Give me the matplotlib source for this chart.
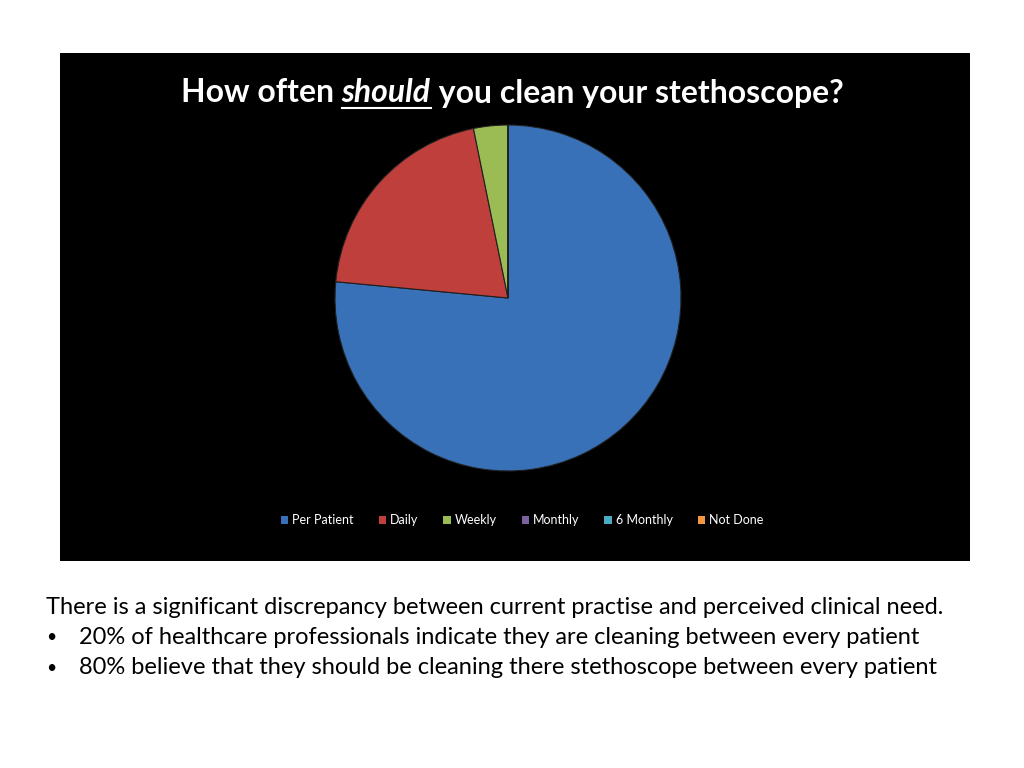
import matplotlib
matplotlib.use("Agg")
import matplotlib.pyplot as plt
from matplotlib.patches import Patch, Rectangle
from matplotlib.lines import Line2D

categories = ["Per Patient", "Daily", "Weekly", "Monthly", "6 Monthly", "Not Done"]
values = [76.5, 20.3, 3.2, 0, 0, 0]
colors = ["#3971B8", "#BE3F3B", "#9BBB54", "#7D60A0", "#4AACC5", "#F59443"]

title_parts = ["How often ", "should", " you clean your stethoscope?"]
body_lines = [
    "There is a significant discrepancy between current practise and perceived clinical need.",
    "20% of healthcare professionals indicate they are cleaning between every patient",
    "80% believe that they should be cleaning there stethoscope between every patient",
]

W, H = 1024, 768
fig = plt.figure(figsize=(W / 100, H / 100), dpi=100)
fig.patch.set_facecolor("white")
FONT = ["Lato", "DejaVu Sans"]

# black chart panel
fig.patches.append(Rectangle((60 / W, 1 - 561 / H), 910 / W, 508 / H,
                             transform=fig.transFigure, facecolor="black",
                             edgecolor="none", zorder=-5))

# pie
r = 173
cx, cy = 508, 298
ax = fig.add_axes([(cx - r) / W, (H - cy - r) / H, 2 * r / W, 2 * r / H])
ax.set_zorder(2)
ax.pie(values, colors=colors, startangle=90, counterclock=False, radius=1,
       wedgeprops=dict(edgecolor="#202020", linewidth=0.8))
ax.set_xlim(-1.0, 1.0)
ax.set_ylim(-1.0, 1.0)
ax.set_aspect("equal")
ax.axis("off")

renderer = fig.canvas.get_renderer()

def fit(t, target_px):
    bb = t.get_window_extent(renderer)
    t.set_fontsize(t.get_fontsize() * target_px / bb.width)

# title composed of three pieces
ty = 1 - 93 / H
styles = ["normal", "italic", "normal"]
pieces = []
for p, st in zip(title_parts, styles):
    pieces.append(fig.text(0, ty, p, fontsize=20, fontweight="bold", style=st,
                           color="white", family=FONT, va="center", ha="left"))
tot = sum(t.get_window_extent(renderer).width for t in pieces)
for t in pieces:
    t.set_fontsize(20 * 661 / tot)
x = 181
for i, t in enumerate(pieces):
    t.set_x(x / W)
    bb = t.get_window_extent(renderer)
    if i == 1:
        fig.add_artist(Line2D([x / W, (x + bb.width) / W],
                              [1 - 108 / H, 1 - 108 / H],
                              transform=fig.transFigure, color="white", lw=1.5))
    x += bb.width

# legend
handles = [Patch(facecolor=c, edgecolor="none") for c in colors]
leg = fig.legend(handles, categories, loc="center", ncol=6,
                 bbox_to_anchor=(522 / W, 1 - 520 / H), frameon=False,
                 handlelength=0.6, handleheight=0.6, handletextpad=0.3,
                 columnspacing=2.0, prop=dict(family=FONT, size=9))
for t in leg.get_texts():
    t.set_color("white")

# body text
ys = [607, 637, 668]
t0 = fig.text(46 / W, 1 - ys[0] / H, body_lines[0], fontsize=16, color="black",
              family=FONT, va="center", ha="left")
fit(t0, 902)
fs = t0.get_fontsize()
for y, line in zip(ys[1:], body_lines[1:]):
    fig.text(46 / W, 1 - y / H, "\u2022", fontsize=fs * 0.75, color="black",
             family=FONT, va="center", ha="left")
    fig.text(79 / W, 1 - y / H, line, fontsize=fs, color="black",
             family=FONT, va="center", ha="left")

fig.savefig("out.png", dpi=100, facecolor="white")
